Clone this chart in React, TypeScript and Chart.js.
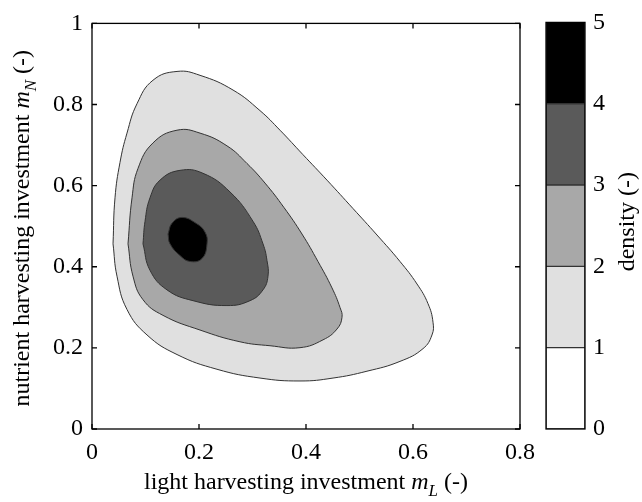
import React, { useEffect, useRef } from "react";
import { Chart, registerables } from "chart.js";

Chart.register(...registerables);

// ---- data ----
const xTicks = [0, 0.2, 0.4, 0.6, 0.8];
const yTicks = [0, 0.2, 0.4, 0.6, 0.8, 1];
const densityTicks = [0, 1, 2, 3, 4, 5];
const densityBands = [1, 1, 1, 1, 1];
const levelColors = ["#ffffff", "#e0e0e0", "#a8a8a8", "#5a5a5a", "#000000"];

// contour of density = 1
const contour1: [number, number][] = [
  [0.0393, 0.4565], [0.043, 0.57], [0.0523, 0.657], [0.0654, 0.7295], [0.0841, 0.8019],
  [0.114, 0.8599], [0.1589, 0.8816], [0.2019, 0.872], [0.2636, 0.8357], [0.314, 0.785],
  [0.3514, 0.7367], [0.3944, 0.6763], [0.4393, 0.6135], [0.4879, 0.5435], [0.5327, 0.4783],
  [0.5757, 0.413], [0.6075, 0.3575], [0.628, 0.3092], [0.6374, 0.2633], [0.6355, 0.2319],
  [0.6187, 0.1981], [0.5757, 0.1667], [0.514, 0.1425], [0.4505, 0.1256], [0.3888, 0.1184],
  [0.314, 0.1256], [0.2336, 0.1473], [0.1589, 0.1836], [0.1028, 0.2319], [0.0654, 0.2947],
  [0.0467, 0.3768], [0.0393, 0.4565],
];
// contour of density = 2
const contour2: [number, number][] = [
  [0.0673, 0.4565], [0.0748, 0.57], [0.086, 0.6425], [0.114, 0.7053], [0.1589, 0.7367],
  [0.2019, 0.7295], [0.2523, 0.6981], [0.2897, 0.6546], [0.3234, 0.6063], [0.3589, 0.5459],
  [0.3925, 0.4807], [0.4224, 0.413], [0.4486, 0.3478], [0.4636, 0.2995], [0.4673, 0.2754],
  [0.4579, 0.2464], [0.4318, 0.2198], [0.3888, 0.2005], [0.3327, 0.2053], [0.2766, 0.215],
  [0.2019, 0.244], [0.1327, 0.2802], [0.0953, 0.3188], [0.0766, 0.3768], [0.0673, 0.4565],
];
// contour of density = 3
const contour3: [number, number][] = [
  [0.0953, 0.4565], [0.0991, 0.5121], [0.1084, 0.57], [0.1271, 0.6135], [0.1645, 0.6377],
  [0.2075, 0.6304], [0.2579, 0.5845], [0.3009, 0.5121], [0.3196, 0.4565], [0.3271, 0.4155],
  [0.329, 0.3768], [0.3196, 0.343], [0.2953, 0.3164], [0.2523, 0.3043], [0.1888, 0.3164],
  [0.1402, 0.343], [0.1084, 0.3913], [0.0953, 0.4565],
];
// contour of density = 4
const contour4: [number, number][] = [
  [0.1421, 0.4807], [0.1495, 0.5072], [0.1682, 0.5217], [0.1944, 0.5072], [0.2112, 0.4855],
  [0.215, 0.4565], [0.2056, 0.4203], [0.1832, 0.413], [0.1645, 0.4275], [0.1458, 0.4565],
  [0.1421, 0.4807],
];
const contours = [contour1, contour2, contour3, contour4];

const SERIF = "'Liberation Serif', 'DejaVu Serif', serif";

type Piece = { t: string; italic?: boolean; sub?: boolean };
const xTitle: Piece[] = [
  { t: "light harvesting investment " },
  { t: "m", italic: true },
  { t: "L", italic: true, sub: true },
  { t: " (-)" },
];
const yTitle: Piece[] = [
  { t: "nutrient harvesting investment " },
  { t: "m", italic: true },
  { t: "N", italic: true, sub: true },
  { t: " (-)" },
];
const cbTitle: Piece[] = [{ t: "density (-)" }];

function drawRich(ctx: CanvasRenderingContext2D, pieces: Piece[], cx: number, baseline: number, size: number) {
  const fontOf = (p: Piece) =>
    `${p.italic ? "italic " : ""}${p.sub ? Math.round(size * 0.7) : size}px ${SERIF}`;
  let total = 0;
  pieces.forEach((p) => {
    ctx.font = fontOf(p);
    total += ctx.measureText(p.t).width;
  });
  let x = cx - total / 2;
  ctx.fillStyle = "#000";
  ctx.textAlign = "left";
  ctx.textBaseline = "alphabetic";
  pieces.forEach((p) => {
    ctx.font = fontOf(p);
    ctx.fillText(p.t, x, baseline + (p.sub ? size * 0.3 : 0));
    x += ctx.measureText(p.t).width;
  });
}

const mainPlugin = {
  id: "frameAndTitles",
  afterDatasetsDraw(chart: any) {
    const { ctx, chartArea } = chart;
    const { left, right, top, bottom } = chartArea;
    const xs = chart.scales.x;
    const ys = chart.scales.y;
    ctx.save();
    ctx.strokeStyle = "#000";
    ctx.lineWidth = 1.3;
    ctx.strokeRect(left, top, right - left, bottom - top);
    ctx.beginPath();
    const L = 5;
    xTicks.forEach((v) => {
      const px = xs.getPixelForValue(v);
      ctx.moveTo(px, bottom);
      ctx.lineTo(px, bottom - L);
      ctx.moveTo(px, top);
      ctx.lineTo(px, top + L);
    });
    yTicks.forEach((v) => {
      const py = ys.getPixelForValue(v);
      ctx.moveTo(left, py);
      ctx.lineTo(left + L, py);
      ctx.moveTo(right, py);
      ctx.lineTo(right - L, py);
    });
    ctx.stroke();
    ctx.restore();
  },
  afterDraw(chart: any) {
    const { ctx, chartArea } = chart;
    ctx.save();
    drawRich(ctx, xTitle, (chartArea.left + chartArea.right) / 2, 489, 24);
    ctx.translate(29, (chartArea.top + chartArea.bottom) / 2 + 2);
    ctx.rotate(-Math.PI / 2);
    drawRich(ctx, yTitle, 0, 0, 24);
    ctx.restore();
  },
};

const cbPlugin = {
  id: "cbFrame",
  afterDraw(chart: any) {
    const { ctx, chartArea } = chart;
    const { left, right, top, bottom } = chartArea;
    ctx.save();
    ctx.strokeStyle = "#000";
    ctx.lineWidth = 1.3;
    ctx.strokeRect(left, top, right - left, bottom - top);
    ctx.translate(634, (top + bottom) / 2 - 4);
    ctx.rotate(-Math.PI / 2);
    drawRich(ctx, cbTitle, 0, 0, 24);
    ctx.restore();
  },
};

export default function App() {
  const mainRef = useRef<HTMLCanvasElement>(null);
  const cbRef = useRef<HTMLCanvasElement>(null);

  useEffect(() => {
    document.body.style.margin = "0";
    const tickFont = { family: SERIF, size: 24 };
    const main = new Chart(mainRef.current!, {
      type: "scatter",
      data: {
        datasets: contours.map((c, i) => ({
          data: c.map(([x, y]) => ({ x, y })),
          showLine: true,
          fill: "shape" as any,
          backgroundColor: levelColors[i + 1],
          borderColor: "#333333",
          borderWidth: 1,
          pointRadius: 0,
          tension: 0.45,
          order: 4 - i,
        })),
      },
      options: {
        animation: false,
        responsive: false,
        devicePixelRatio: 1,
        layout: { padding: { left: 0, top: 15, right: 122, bottom: 0 } },
        plugins: { legend: { display: false }, tooltip: { enabled: false } },
        scales: {
          x: {
            type: "linear",
            min: 0,
            max: 0.8,
            ticks: {
              stepSize: 0.2,
              font: tickFont,
              color: "#000",
              padding: 9,
              maxRotation: 0,
              callback: (v: any) => String(+Number(v).toFixed(1)),
            },
            grid: { display: false, drawTicks: false },
            border: { display: false },
            afterFit: (s: any) => {
              s.height = 73;
            },
          },
          y: {
            type: "linear",
            min: 0,
            max: 1,
            ticks: {
              stepSize: 0.2,
              font: tickFont,
              color: "#000",
              padding: 9,
              callback: (v: any) => String(+Number(v).toFixed(1)),
            },
            grid: { display: false, drawTicks: false },
            border: { display: false },
            afterFit: (s: any) => {
              s.width = 92;
            },
          },
        },
      },
      plugins: [mainPlugin],
    });

    const cb = new Chart(cbRef.current!, {
      type: "bar",
      data: {
        labels: [""],
        datasets: densityBands.map((v, i) => ({
          data: [v],
          backgroundColor: levelColors[i],
          borderColor: "#333",
          borderWidth: 1,
          borderSkipped: false,
          categoryPercentage: 1,
          barPercentage: 1,
          stack: "s",
        })),
      },
      options: {
        animation: false,
        responsive: false,
        devicePixelRatio: 1,
        layout: { padding: { left: 546, top: 15, right: 0, bottom: 73 } },
        plugins: { legend: { display: false }, tooltip: { enabled: false } },
        scales: {
          x: { stacked: true, display: false },
          y: {
            stacked: true,
            position: "right",
            min: densityTicks[0],
            max: densityTicks[densityTicks.length - 1],
            ticks: { stepSize: 1, font: tickFont, color: "#000", padding: 8 },
            grid: { display: false, drawTicks: false },
            border: { display: false },
            afterFit: (s: any) => {
              s.width = 57;
            },
          },
        },
      },
      plugins: [cbPlugin],
    });

    return () => {
      main.destroy();
      cb.destroy();
    };
  }, []);

  return (
    <div style={{ position: "relative", width: 642, height: 502, background: "#fff" }}>
      <canvas ref={mainRef} width={642} height={502} style={{ position: "absolute", left: 0, top: 0 }} />
      <canvas ref={cbRef} width={642} height={502} style={{ position: "absolute", left: 0, top: 0 }} />
    </div>
  );
}
